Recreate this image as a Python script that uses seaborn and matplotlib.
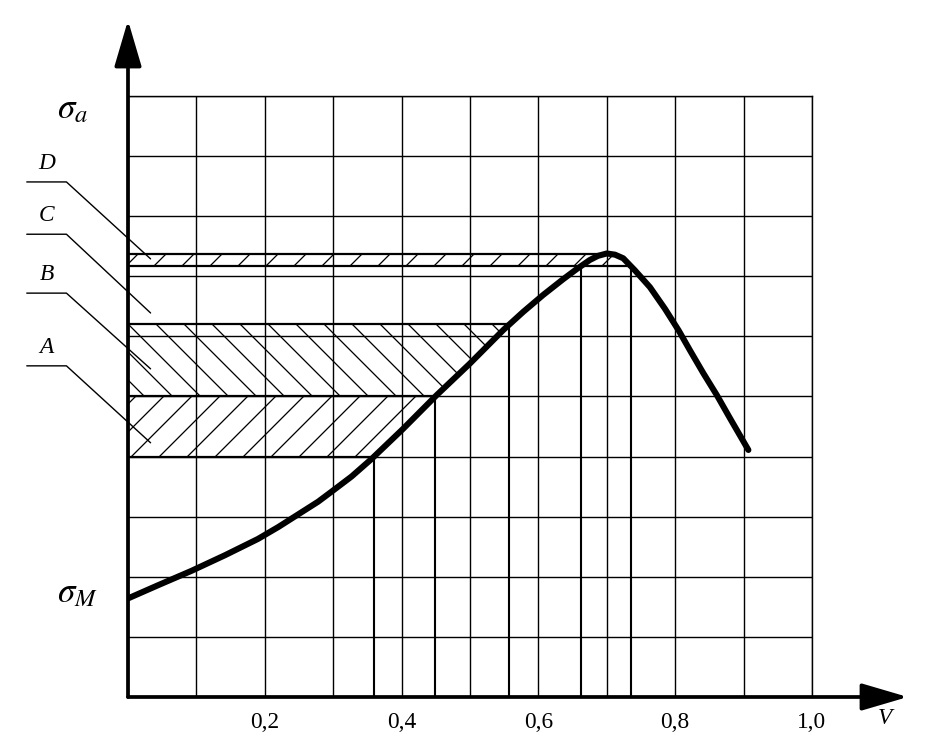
import numpy as np
import matplotlib
matplotlib.use('Agg')
import matplotlib.pyplot as plt
import seaborn as sns
import pandas as pd

# curve sigma(V) (sigma in grid units, V as fraction)
v_vals = [0.0, 0.044, 0.093, 0.142, 0.190, 0.220, 0.249, 0.278, 0.298,
          0.327, 0.356, 0.402, 0.451, 0.500, 0.549, 0.578, 0.607, 0.636,
          0.656, 0.675, 0.687, 0.700, 0.712, 0.724, 0.741, 0.763,
          0.785, 0.805, 0.822, 0.841, 0.861, 0.880, 0.907]
s_vals = [1.64, 1.86, 2.10, 2.36, 2.63, 2.83, 3.04, 3.25, 3.42,
          3.67, 3.96, 4.46, 5.02, 5.55, 6.11, 6.41, 6.69, 6.95,
          7.12, 7.27, 7.34, 7.38, 7.36, 7.30, 7.10, 6.82,
          6.46, 6.10, 5.76, 5.39, 5.02, 4.64, 4.11]

# stress bands
band_names = ['A', 'B', 'C', 'D']
band_lo = [4.0, 5.0, 6.2, 7.17]
band_hi = [5.0, 6.2, 7.17, 7.37]
band_hatch = ['//', '\\\\', None, '//']

# axis marks
sigma_pos = [1.6, 9.57]
sigma_lab = [r'$\sigma_M$', r'$\sigma_a$']
v_ticks = [0.2, 0.4, 0.6, 0.8, 1.0]
v_labels = ['0,2', '0,4', '0,6', '0,8', '1,0']

DPI = 168
sns.set_theme(style='white')
plt.rcParams['font.family'] = ['Liberation Serif', 'DejaVu Serif']
plt.rcParams['mathtext.fontset'] = 'stix'
plt.rcParams['hatch.linewidth'] = 0.55
plt.rcParams['hatch.color'] = 'black'

fig = plt.figure(figsize=(952 / DPI, 738 / DPI), dpi=DPI)
fig.patch.set_facecolor('white')
ax = fig.add_axes([0.13445, 0.05556, 0.71849, 0.81436])
ax.set_facecolor('white')
ax.set_xlim(0, 1.0)
ax.set_ylim(0, 10)

# grid
ax.set_xticks(np.arange(0, 1.01, 0.1), minor=True)
ax.set_yticks(np.arange(0, 10.01, 1), minor=True)
ax.set_xticks(v_ticks)
ax.set_xticklabels(v_labels, fontsize=10)
ax.set_yticks(sigma_pos)
ax.set_yticklabels(['', ''])
ax.grid(False)
ax.xaxis.grid(True, which='both', color='black', lw=0.6)
ax.yaxis.grid(True, which='minor', color='black', lw=0.6)
ax.tick_params(which='minor', length=0)
ax.tick_params(axis='x', which='major', direction='out', length=5, width=0.6,
               pad=1.5, colors='black')
ax.tick_params(axis='y', which='major', direction='out', length=6, width=0.8,
               colors='black')
for side in ['left', 'bottom']:
    ax.spines[side].set_visible(False)
for side in ['top', 'right']:
    ax.spines[side].set_linewidth(0.6)
    ax.spines[side].set_color('black')

v = np.array(v_vals)
s = np.array(s_vals)
ip = int(np.argmax(s))
vl, sl = v[:ip + 1], s[:ip + 1]
vr, sr = v[ip:][::-1], s[ip:][::-1]

def left_x(level):
    return np.interp(level, sl, vl)

def right_x(level):
    return np.interp(level, sr, vr)

# hatched bands bounded by the curve
for lo, hi, h in zip(band_lo, band_hi, band_hatch):
    if h is None:
        continue
    ys = np.linspace(lo, hi, 60)
    xs = right_x(ys) if hi > 7 else left_x(ys)
    ax.fill_betweenx(ys, 0, xs, facecolor='none', edgecolor='black',
                     hatch=h, linewidth=0)

# band boundaries and drop lines
for lev in [4.0, 5.0, 6.2, 7.37]:
    ax.hlines(lev, 0, left_x(lev), color='black', lw=0.95)
ax.hlines(7.17, 0, right_x(7.17), color='black', lw=0.95)
for lev in [4.0, 5.0, 6.2, 7.17]:
    ax.vlines(left_x(lev), 0, lev, color='black', lw=0.9)
ax.vlines(right_x(7.17), 0, 7.17, color='black', lw=0.9)

# main curve
df = pd.DataFrame({'V': v_vals, 'sigma': s_vals})
sns.lineplot(data=df, x='V', y='sigma', ax=ax, color='black', lw=2.6,
             estimator=None, sort=False, solid_capstyle='round',
             solid_joinstyle='round')
ax.set_xlabel('')
ax.set_ylabel('')

# axes with arrows
arrow = dict(arrowstyle='-|>,head_length=0.85,head_width=0.25', lw=1.6,
             color='black', shrinkA=0, shrinkB=0, mutation_scale=20)
ax.annotate('', xy=(0, 11.26), xytext=(0, 0), arrowprops=arrow,
            annotation_clip=False)
ax.annotate('', xy=(1.14, 0), xytext=(0, 0), arrowprops=arrow,
            annotation_clip=False)

# sigma labels
ax.text(-0.0585, 9.63, sigma_lab[1], fontsize=15, ha='right', va='baseline',
        color='black', clip_on=False)
ax.text(-0.044, 1.58, sigma_lab[0], fontsize=15, ha='right', va='baseline',
        color='black', clip_on=False)
ax.text(1.107, -0.35, 'V', fontsize=10, style='italic', ha='center',
        va='center', color='black', clip_on=False)

# band letters with leader lines
lead_y = {'D': 8.57, 'C': 7.70, 'B': 6.72, 'A': 5.51}
lead_end = {'D': 7.29, 'C': 6.39, 'B': 5.46, 'A': 4.23}
for name in ['D', 'C', 'B', 'A']:
    yu = lead_y[name]
    ax.plot([-0.148, -0.09, 0.033], [yu, yu, lead_end[name]], color='black',
            lw=0.6, clip_on=False)
    ax.annotate(name, xy=(-0.119, yu), xytext=(0, 3.5),
                textcoords='offset points', ha='center', va='bottom',
                fontsize=10, style='italic', color='black',
                annotation_clip=False)

fig.savefig('out.png', dpi=DPI, facecolor='white')
